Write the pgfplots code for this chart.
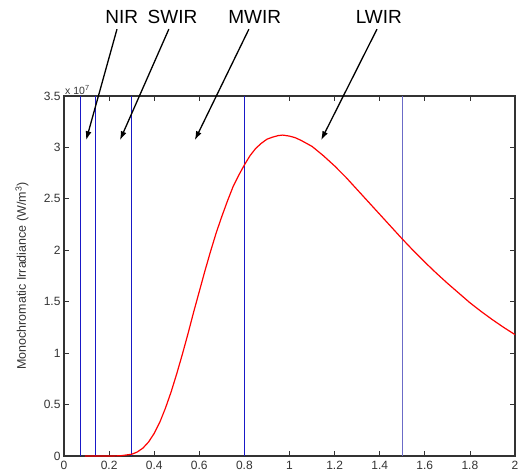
\documentclass[border=0pt]{standalone}
\usepackage{fontspec}
\setmainfont{Liberation Sans}
\usepackage{pgfplots}
\pgfplotsset{compat=1.18}
\usetikzlibrary{arrows.meta}
\definecolor{vline}{rgb}{0.1,0.1,0.78}
\definecolor{vlinelight}{rgb}{0.42,0.42,0.78}
\definecolor{axgray}{rgb}{0.2,0.2,0.2}
\begin{document}
\begin{tikzpicture}
\begin{axis}[
  name=ax,
  width=451pt, height=360pt, scale only axis,
  xmin=0, xmax=2, ymin=0, ymax=3.5,
  xtick={0,0.2,...,2.01},
  ytick={0,0.5,...,3.51},
  scaled y ticks=false,
  /pgf/number format/assume math mode=true,
  tick label style={font=\fontsize{12}{14}\selectfont, text=axgray},
  major tick length=5pt,
  tick style={axgray, line width=0.8pt},
  axis line style={axgray, line width=1.2pt},
  clip=false,
  ylabel={Monochromatic Irradiance (W/m\textsuperscript{3})},
  ylabel style={at={(axis description cs:-0.093,0.5)}, anchor=center, font=\fontsize{12.5}{14}\selectfont, text=axgray},
  xticklabel style={yshift=-2pt},
]
\addplot[color=vline, line width=1pt] coordinates {(0.075,0) (0.075,3.5)};
\addplot[color=vline, line width=1pt] coordinates {(0.14,0) (0.14,3.5)};
\addplot[color=vline, line width=1pt] coordinates {(0.30,0) (0.30,3.5)};
\addplot[color=vline, line width=1pt] coordinates {(0.80,0) (0.80,3.5)};
\addplot[color=vlinelight, line width=1.1pt] coordinates {(1.50,0) (1.50,3.5)};
\addplot[color=red, line width=1.2pt, line join=round] coordinates {
(0.093,0) (0.15,0) (0.2,0) (0.25,0.002) (0.3,0.017) (0.325,0.039) (0.35,0.077)
(0.375,0.136) (0.4,0.22) (0.425,0.329) (0.45,0.466) (0.475,0.623) (0.5,0.80)
(0.525,0.99) (0.55,1.19) (0.575,1.40) (0.6,1.60) (0.625,1.80) (0.65,1.99)
(0.675,2.17) (0.7,2.33) (0.725,2.48) (0.75,2.62) (0.775,2.73) (0.8,2.83)
(0.825,2.92) (0.85,2.99) (0.875,3.04) (0.9,3.08) (0.925,3.10) (0.95,3.115)
(0.97,3.12) (1.0,3.11) (1.025,3.095) (1.05,3.07) (1.075,3.04) (1.1,3.01)
(1.15,2.92) (1.2,2.82) (1.25,2.71) (1.3,2.59) (1.35,2.47) (1.4,2.35)
(1.45,2.23) (1.5,2.11) (1.55,1.995) (1.6,1.885) (1.65,1.78) (1.7,1.68)
(1.75,1.585) (1.8,1.49) (1.85,1.405) (1.9,1.325) (1.95,1.25) (2.0,1.18)
};
\node[anchor=south west, inner sep=1pt, font=\fontsize{10.5}{12}\selectfont, text=axgray] at (axis cs:0,3.5) {x 10\textsuperscript{7}};
\draw[-{Latex[length=9pt,width=6pt]}, line width=1.3pt] (axis cs:0.235,4.15) -- (axis cs:0.098,3.07);
\draw[-{Latex[length=9pt,width=6pt]}, line width=1.3pt] (axis cs:0.465,4.15) -- (axis cs:0.248,3.07);
\draw[-{Latex[length=9pt,width=6pt]}, line width=1.3pt] (axis cs:0.82,4.15) -- (axis cs:0.58,3.07);
\draw[-{Latex[length=9pt,width=6pt]}, line width=1.3pt] (axis cs:1.388,4.15) -- (axis cs:1.14,3.07);
\node[font=\fontsize{19}{21}\selectfont] at (axis cs:0.256,4.27) {NIR};
\node[font=\fontsize{19}{21}\selectfont] at (axis cs:0.481,4.27) {SWIR};
\node[font=\fontsize{19}{21}\selectfont] at (axis cs:0.846,4.27) {MWIR};
\node[font=\fontsize{19}{21}\selectfont] at (axis cs:1.396,4.27) {LWIR};
\end{axis}
\pgfresetboundingbox
\path ([shift={(-64pt,-20pt)}]ax.south west) rectangle ([shift={(15pt,96pt)}]ax.north east);
\end{tikzpicture}
\end{document}
